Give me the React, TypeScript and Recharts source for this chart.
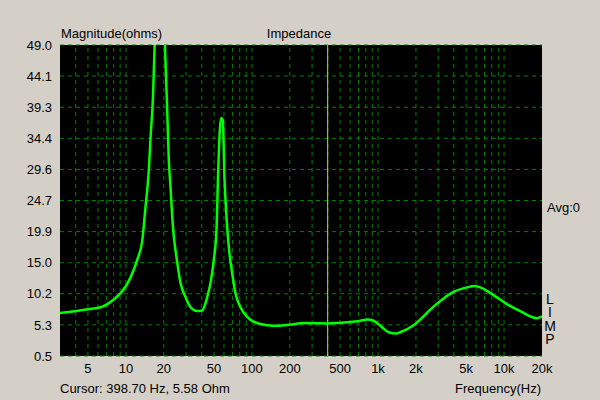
import React from 'react';
import { LineChart, Line, XAxis, YAxis, CartesianGrid, ReferenceLine } from 'recharts';

const freqs = [3, 5, 6.3, 8, 10, 10.9, 12.3, 13.5, 14.3, 15.2, 15.7, 16.4, 16.9, 18.6, 20.4, 21.3, 21.9, 22.6, 23.3, 24.0, 25.2, 27.1, 29.7, 32.6, 36.8, 40.3, 44.2, 46.9, 49.8, 52.3, 54.0, 55.6, 57.0, 58.7, 60.5, 62.8, 65.5, 69.7, 74.0, 81.1, 91.6, 103, 132, 162, 202, 256, 329, 398.7, 568, 724, 818, 923, 1076, 1214, 1400, 1503, 1916, 2757, 3972, 5070, 5800, 6460, 8240, 10520, 13420, 18200, 20000];
const ohms = [7.2, 7.8, 8.1, 9.3, 11.4, 12.8, 15.5, 18.6, 23.7, 29.5, 34.7, 40.9, 49.0, 62.0, 49.0, 38.4, 31.0, 26.8, 22.2, 19.1, 15.9, 11.9, 9.7, 8.1, 7.5, 7.6, 9.7, 11.9, 15.5, 20.1, 29.5, 35.7, 37.6, 37.3, 28.4, 22.2, 17.5, 13.4, 10.3, 8.1, 6.6, 5.85, 5.3, 5.2, 5.4, 5.65, 5.6, 5.58, 5.75, 6.0, 6.2, 6.0, 5.0, 4.2, 4.0, 4.2, 5.3, 8.2, 10.5, 11.2, 11.4, 11.2, 10.0, 8.6, 7.5, 6.4, 6.7];

const xTicks = [5, 10, 20, 50, 100, 200, 500, 1000, 2000, 5000, 10000, 20000];
const xTickLabels = ['5', '10', '20', '50', '100', '200', '500', '1k', '2k', '5k', '10k', '20k'];
const yTicks = [0.5, 5.35, 10.2, 15.05, 19.9, 24.75, 29.6, 34.45, 39.3, 44.15, 49.0];
const yTickLabels = ['0.5', '5.3', '10.2', '15.0', '19.9', '24.7', '29.6', '34.4', '39.3', '44.1', '49.0'];
const gridFreqs = [4, 5, 6, 7, 8, 9, 10, 20, 30, 40, 50, 60, 70, 80, 90, 100, 200, 300, 400, 500, 600, 700, 800, 900, 1000, 2000, 3000, 4000, 5000, 6000, 7000, 8000, 9000, 10000];
const cursorFreq = 398.7;
const sideLetters = ['L', 'I', 'M', 'P'];

const data = freqs.map((f, i) => ({ f, z: ohms[i] }));

const font = '"Liberation Sans", Arial, sans-serif';
const txt: React.CSSProperties = { position: 'absolute', fontFamily: font, fontSize: 13, color: '#000', lineHeight: '15px', whiteSpace: 'nowrap' };

export default function App() {
  return (
    <div style={{ position: 'absolute', left: 0, top: 0, width: 600, height: 400, background: '#d4d0c8', overflow: 'hidden' }}>
      <LineChart width={600} height={400} data={data} margin={{ top: 45, right: 58, bottom: 0, left: 0 }}>
        <CartesianGrid fill="#000" vertical={false} stroke="#008000" strokeDasharray="4 4" />
        <XAxis
          dataKey="f"
          type="number"
          scale="log"
          domain={[3, 20000]}
          allowDataOverflow
          ticks={xTicks}
          tickFormatter={(v: number, i: number) => xTickLabels[i]}
          axisLine={false}
          tickLine={false}
          height={44}
          tick={{ fill: '#000', fontSize: 13, fontFamily: font }}
          interval={0}
        />
        <YAxis
          type="number"
          domain={[0.5, 49]}
          allowDataOverflow
          ticks={yTicks}
          tickFormatter={(v: number, i: number) => yTickLabels[i]}
          axisLine={false}
          tickLine={false}
          width={60}
          tick={{ fill: '#000', fontSize: 13, fontFamily: font }}
          interval={0}
        />
        {gridFreqs.map((g) => (
          <ReferenceLine key={g} x={g} stroke="#008000" strokeDasharray="4 4" />
        ))}
        <ReferenceLine x={cursorFreq} stroke="#d0d030" strokeWidth={1} />
        <Line type="monotone" dataKey="z" stroke="#00ff00" strokeWidth={2.5} dot={false} isAnimationActive={false} />
      </LineChart>
      <div style={{ ...txt, left: 61, top: 26 }}>Magnitude(ohms)</div>
      <div style={{ ...txt, left: 299, top: 26, transform: 'translateX(-50%)' }}>Impedance</div>
      <div style={{ ...txt, left: 547, top: 200 }}>Avg:0</div>
      <div style={{ ...txt, left: 550, top: 293, fontSize: 14, lineHeight: '13.4px', whiteSpace: 'pre-line', textAlign: 'center', transform: 'translateX(-50%)' }}>
        {sideLetters.join('\n')}
      </div>
      <div style={{ ...txt, left: 60, top: 381 }}>Cursor: 398.70 Hz, 5.58 Ohm</div>
      <div style={{ ...txt, right: 59, top: 381 }}>Frequency(Hz)</div>
    </div>
  );
}
